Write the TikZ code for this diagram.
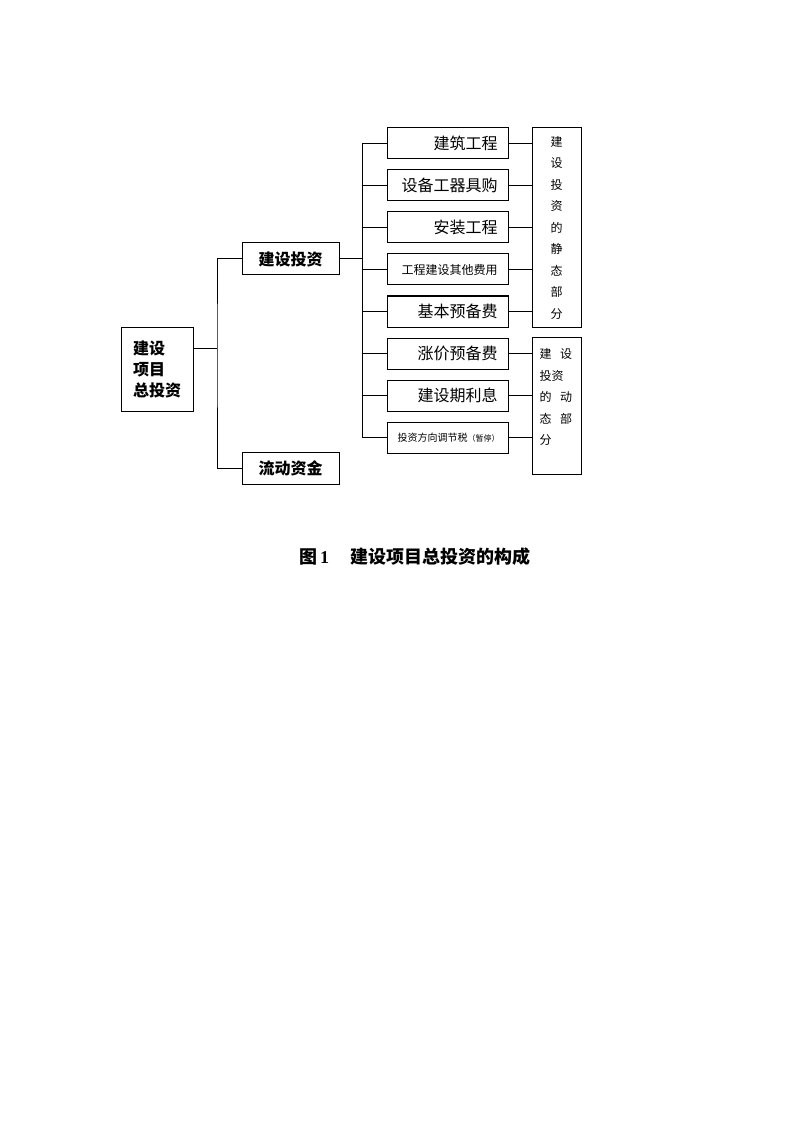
\documentclass[tikz,border=0pt]{standalone}
\usepackage{fontspec}
\setmainfont{Noto Sans CJK SC}
\newfontfamily\latinfont{Liberation Serif}
\usetikzlibrary{positioning}
\tikzset{
  box/.style={draw, line width=1pt, inner sep=0pt, font=\fontsize{16}{19}\selectfont},
  head/.style={box, minimum width=97pt, minimum height=32pt,
               font=\fontsize{16}{19}\selectfont\bfseries},
  item/.style={box, minimum width=121pt, minimum height=31pt, text width=100pt, align=right},
  small/.style={item, font=\fontsize{12}{14}\selectfont},
  part/.style={box, minimum width=49pt},
  vtxt/.style={inner sep=0pt, font=\fontsize{12}{21.5}\selectfont},
  link/.style={line width=1pt},
}

\begin{document}
\begin{tikzpicture}[x=1pt, y=-1pt, node distance=10pt]
  \useasboundingbox (0,0) rectangle (800,1131);
  \node[box, minimum width=72pt, minimum height=84pt, text width=48pt, align=left,
        font=\fontsize{16}{21}\selectfont\bfseries] (root) at (157,369)
    {建设\\项目\\总投资};
  \node[head] (inv) at (290.5,259) {建设投资};
  \node[head] (cur) at (290.5,468.5) {流动资金};
  \node[item] (b1) at (447.5,143.5) {建筑工程};
  \node[item, below=of b1] (b2) {设备工器具购};
  \node[item, below=of b2] (b3) {安装工程};
  \node[small, below=of b3] (b4) {工程建设其他费用};
  \node[item, below=of b4] (b5) {基本预备费};
  \node[item, below=of b5] (b6) {涨价预备费};
  \node[item, below=of b6] (b7) {建设期利息};
  \node[small, below=of b7, font=\fontsize{10}{12}\selectfont] (b8)
    {投资方向调节税{\fontsize{8}{10}\selectfont（暂停）}};
  \node[part, minimum height=199pt] (stat) at (556.5,227.5) {};
  \node[vtxt, align=center] (stattxt) at (stat) {建\\设\\投\\资\\的\\静\\态\\部\\分};
  \node[part, minimum height=137pt] (dyn) at (556.5,405.5) {};
  \node[vtxt, align=left, anchor=north west] (dyntxt) at ([xshift=8pt, yshift=-12pt]dyn.north west)
    {建\hspace{0.7em}设\\投资\\的\hspace{0.7em}动\\态\hspace{0.7em}部\\分};
  \node[font=\fontsize{18}{20}\selectfont\bfseries] (cap) at (415,557)
    {图\,{\latinfont 1}\hspace{1.2em}建设项目总投资的构成};
  % connectors
  \coordinate (j1) at (217,348);
  \coordinate (j2) at (362,259);
  \draw[link] (root.east |- j1) -- (j1);
  \draw[link] (inv.west) -| (j1) |- (cur.west);
  \draw[link] (inv.east) -- (j2);
  \draw[link] (j2 |- b1.west) -- (j2 |- b8.west);
  \foreach \i in {1,...,8} \draw[link] (b\i.west) -- (j2 |- b\i.west);
  \foreach \i in {1,...,5} \draw[link] (b\i.east) -- (stat.west |- b\i.east);
  \foreach \i in {6,7,8} \draw[link] (b\i.east) -- (dyn.west |- b\i.east);
\end{tikzpicture}
\end{document}
